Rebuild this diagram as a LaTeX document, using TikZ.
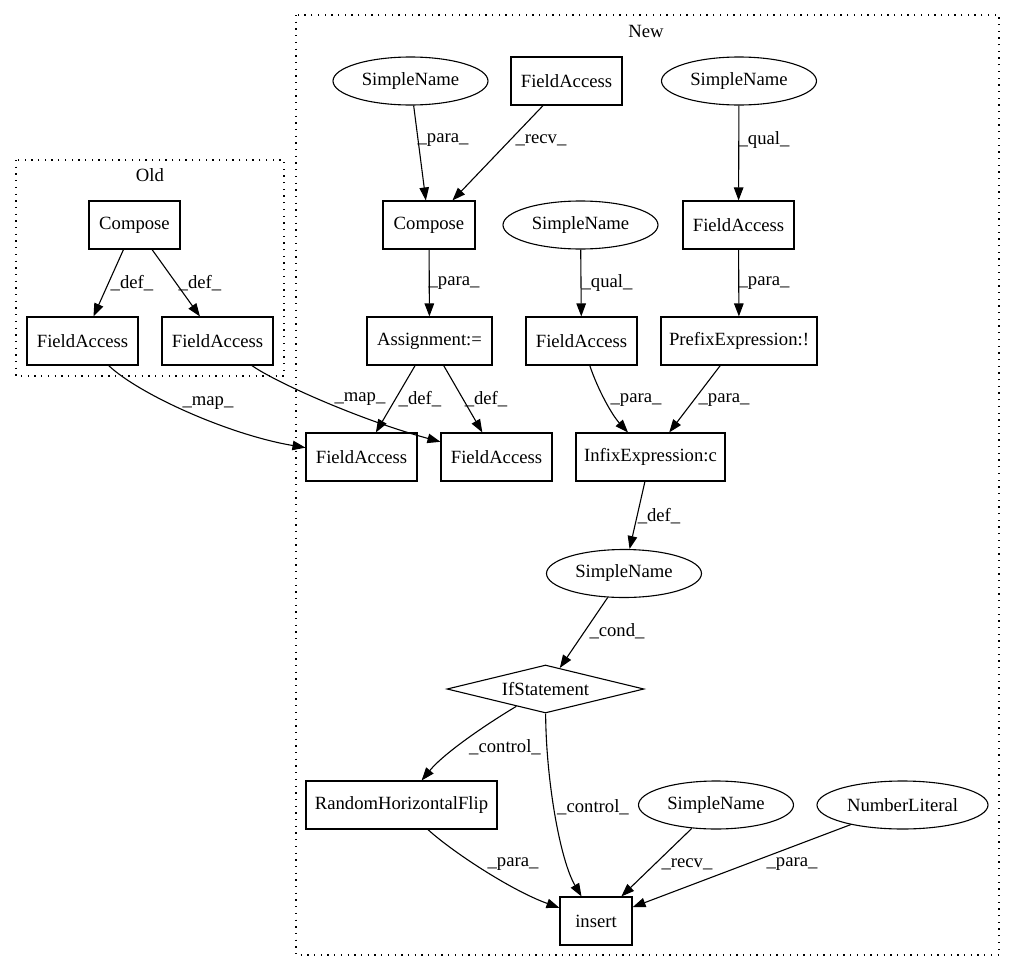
\documentclass[tikz,border=0pt]{standalone}
\usepackage{fontspec}
\setmainfont{Liberation Serif}
\usetikzlibrary{shapes.geometric,arrows.meta}

\begin{document}
\begin{tikzpicture}[
  x=1pt, y=-1pt,
  every node/.style={font=\fontsize{18.67}{22}\selectfont},
  box/.style={draw, line width=1.1pt, inner sep=0pt, minimum width=111pt, minimum height=48pt},
  oval/.style={draw, ellipse, line width=1.1pt, inner sep=0pt, minimum width=155pt, minimum height=48pt},
  cond/.style={draw, diamond, aspect=4, line width=1.1pt, inner sep=0pt, minimum width=197pt, minimum height=48pt},
  clust/.style={line width=1.1pt, dash pattern=on 1.3pt off 5.4pt},
  lbl/.style={inner sep=0pt},
  arr/.style={-{Triangle[length=13pt, width=9.5pt]}, line width=1.1pt}
]
  \useasboundingbox (0,0) rectangle (1015,972);

  % Clusters
  \draw[clust] (16,160) rectangle (284,376);
  \node (oldlbl) at (150,175) {Old};
  \draw[clust] (296,15) rectangle (999,955);
  \node (newlbl) at (646,31) {New};

  % Old
  \node[box, minimum width=91pt] (cmpO) at (134.5,225) {Compose};
  \node[box] (faO1) at (82.5,341) {FieldAccess};
  \node[box] (faO2) at (217.5,341) {FieldAccess};

  % New, top rows
  \node[oval] (sn1) at (410.5,81) {SimpleName};
  \node[box] (faT) at (566.5,81) {FieldAccess};
  \node[oval] (sn2) at (739,81) {SimpleName};
  \node[box, minimum width=92pt] (cmpN) at (429,225) {Compose};
  \node[oval] (sn3) at (580.5,225) {SimpleName};
  \node[box] (faR) at (738.5,225) {FieldAccess};
  \node[box, minimum width=125pt] (asg) at (429.5,341) {Assignment:=};
  \node[box] (faM) at (581.5,341) {FieldAccess};
  \node[box, minimum width=156pt] (prefix) at (739,341) {PrefixExpression:!};
  \node[box] (faN1) at (361.5,457) {FieldAccess};
  \node[box] (faN2) at (496.5,457) {FieldAccess};
  \node[box, minimum width=149pt] (infix) at (650.5,457) {InfixExpression:c};

  % New, lower rows
  \node[oval] (sn4) at (624,573.5) {SimpleName};
  \node[cond] (ifs) at (545.5,689) {IfStatement};
  \node[box, minimum width=191pt] (rhf) at (401.5,805) {RandomHorizontalFlip};
  \node[oval] (sn5) at (716,805) {SimpleName};
  \node[oval, minimum width=171pt] (numlit) at (902.5,805) {NumberLiteral};
  \node[box, minimum width=72pt] (ins) at (596,921) {insert};

  % Old edges
  \draw[arr] (cmpO) -- (faO1) node[lbl] at (132,283) {\_def\_};
  \draw[arr] (cmpO) -- (faO2) node[lbl] at (200,283) {\_def\_};
  \draw[arr] (faO1) .. controls (140,395) and (230,435) .. (faN1) node[lbl] at (208,403) {\_map\_};
  \draw[arr] (faO2) .. controls (275,382) and (360,420) .. (faN2) node[lbl] at (360,399) {\_map\_};

  % New edges
  \draw[arr] (sn1) -- (cmpN) node[lbl] at (443,140) {\_para\_};
  \draw[arr] (faT) -- (cmpN) node[lbl] at (541,140) {\_recv\_};
  \draw[arr] (sn2) -- (faR) node[lbl] at (764,140) {\_qual\_};
  \draw[arr] (cmpN) -- (asg) node[lbl] at (454,283) {\_para\_};
  \draw[arr] (sn3) -- (faM) node[lbl] at (607,283) {\_qual\_};
  \draw[arr] (faR) -- (prefix) node[lbl] at (764,283) {\_para\_};
  \draw[arr] (asg) -- (faN1) node[lbl] at (420,399) {\_def\_};
  \draw[arr] (asg) -- (faN2) node[lbl] at (486,399) {\_def\_};
  \draw[arr] (faM) .. controls (598,390) and (612,415) .. (infix) node[lbl] at (636,400) {\_para\_};
  \draw[arr] (prefix) -- (infix) node[lbl] at (724,400) {\_para\_};
  \draw[arr] (infix) -- (sn4) node[lbl] at (659,516) {\_def\_};
  \draw[arr] (sn4) -- (ifs) node[lbl] at (617,631) {\_cond\_};
  \draw[arr] (ifs) .. controls (490,722) and (445,752) .. (rhf) node[lbl] at (505,747) {\_control\_};
  \draw[arr] (ifs) .. controls (546,780) and (560,860) .. (ins) node[lbl] at (593,807) {\_control\_};
  \draw[arr] (rhf) .. controls (450,850) and (510,890) .. (ins) node[lbl] at (513,864) {\_para\_};
  \draw[arr] (sn5) -- (ins) node[lbl] at (687,864) {\_recv\_};
  \draw[arr] (numlit) -- (ins) node[lbl] at (792,864) {\_para\_};
\end{tikzpicture}
\end{document}
